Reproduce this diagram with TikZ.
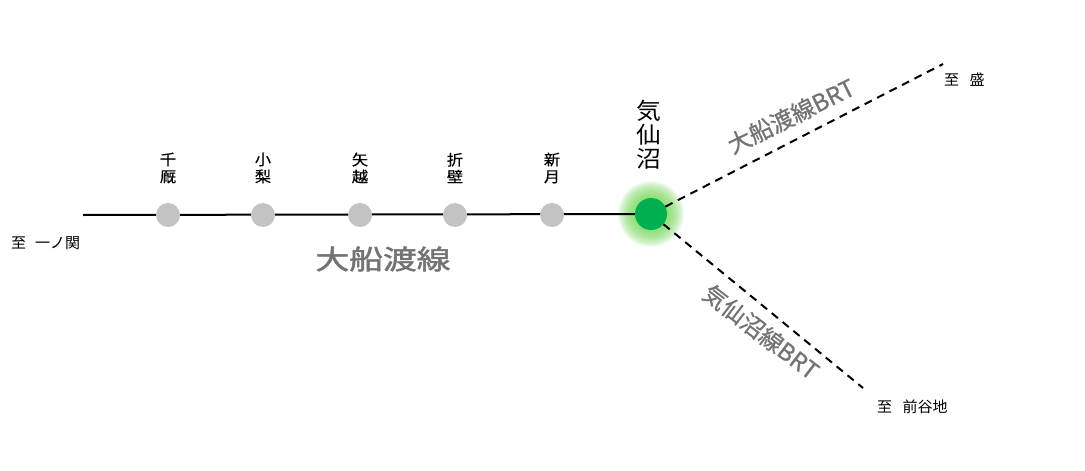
\documentclass[tikz,border=0pt]{standalone}
\usepackage{fontspec}
\setmainfont{Noto Sans CJK JP}
\newfontfamily\medfont{Noto Sans CJK JP}[FakeBold=1.6]
\newfontfamily\semifont{Noto Sans CJK JP}[FakeBold=0.8]
\newfontfamily\lightbold{Noto Sans CJK JP}[FakeBold=0.5]
\definecolor{stgray}{HTML}{C3C3C3}
\definecolor{lblgray}{HTML}{737373}
\definecolor{kgreen}{HTML}{00B050}
\definecolor{kglow}{HTML}{7EDC5E}
\tikzset{
  station/.style={circle, fill=stgray, minimum size=24pt, inner sep=0pt},
  stlabel/.style={font=\lightbold\fontsize{15}{17}\selectfont, align=center, inner sep=0pt, xscale=1.08},
  mainline/.style={line width=2pt, black},
  brt/.style={line width=2pt, black, dash pattern=on 8pt off 6pt},
  linelabel/.style={text=lblgray, inner sep=0pt},
  dest/.style={font=\fontsize{15}{17}\selectfont, inner sep=0pt}
}
\begin{document}
\begin{tikzpicture}[x=1pt,y=-1pt]
\useasboundingbox (0,0) rectangle (1085,471);
\fill[white] (0,0) rectangle (1085,471);
\coordinate (kc) at (651,214);
% glow
\foreach \r in {33,32,...,17} {\fill[kglow, opacity=0.085] (kc) circle (\r);}
\coordinate (west) at (83,215);
\coordinate (ne) at (943,64);
\coordinate (se) at (863,388);
\node[circle, fill=kgreen, minimum size=32pt, inner sep=0pt] (kes) at (kc) {};
\draw[mainline] (west) -- (kes);
\node[station] (s1) at (168,215) {};
\node[station] (s2) at (263,215) {};
\node[station] (s3) at (360,215) {};
\node[station] (s4) at (455,215) {};
\node[station] (s5) at (552,215) {};
\node[stlabel] (l1) at (168,168) {千\\厩};
\node[stlabel] (l2) at (263,168) {小\\梨};
\node[stlabel] (l3) at (360,168) {矢\\越};
\node[stlabel] (l4) at (455,168) {折\\壁};
\node[stlabel] (l5) at (552,168) {新\\月};
\node[stlabel, font=\fontsize{23}{24}\selectfont] (lk) at (649,135) {気\\仙\\沼};
\draw[brt] (kes) -- (ne);
\draw[brt] (kes) -- (se);
\node[linelabel, font=\medfont\fontsize{27}{30}\selectfont, xscale=1.25] (ofuna) at (383,259) {大船渡線};
\node[linelabel, font=\semifont\fontsize{23.5}{26}\selectfont, rotate=26] (brt1) at (791,116) {大船渡線BRT};
\node[linelabel, font=\semifont\fontsize{23.5}{26}\selectfont, rotate=-37.4] (brt2) at (761,332) {気仙沼線BRT};
\node[dest, anchor=west] (d1) at (11,243) {至\hspace{0.6em}一ノ関};
\node[dest, anchor=west] (d2) at (944,80) {至\hspace{0.7em}盛};
\node[dest, anchor=west] (d3) at (877,407) {至\hspace{0.7em}前谷地};
\end{tikzpicture}
\end{document}
